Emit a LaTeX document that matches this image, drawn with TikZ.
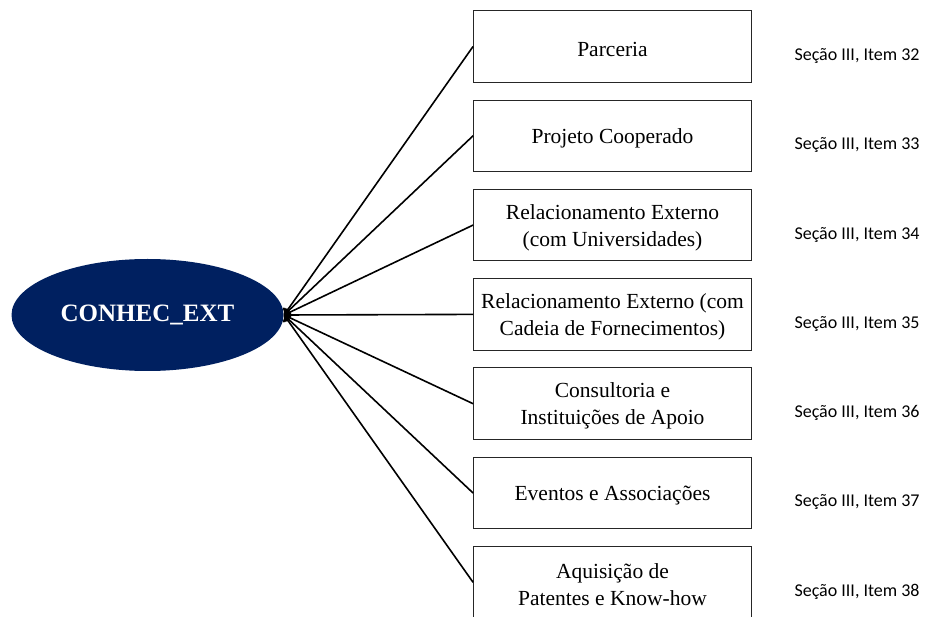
\documentclass[tikz,border=0pt]{standalone}
\usepackage{fontspec}
\setmainfont{Liberation Serif}
\newfontfamily\refsans{Carlito}
\usetikzlibrary{shapes.geometric,arrows.meta}
\definecolor{navy}{HTML}{002060}
\tikzset{
  itembox/.style={draw=black!85, line width=0.9pt, minimum width=278pt, minimum height=71.5pt, inner sep=0pt},
  itemtext/.style={align=center, font=\fontsize{21.5}{27}\selectfont, inner sep=0pt},
  reflabel/.style={anchor=west, font=\refsans\fontsize{18}{21}\selectfont},
  link/.style={line width=1.6pt, -{To[length=6pt,width=10pt]}}
}
\begin{document}
\begin{tikzpicture}[x=1pt,y=-1pt]
  \useasboundingbox (0,0) rectangle (927,617);
  \node[ellipse, fill=navy, minimum width=272pt, minimum height=112pt, inner sep=0pt,
        text=white, font=\bfseries\fontsize{25}{29}\selectfont] (ce) at (147.5,315) {CONHEC\_EXT};
  \coordinate (tip) at (284,315);
  \foreach \i/\txt in {1/Parceria,2/Projeto Cooperado,
      3/{Relacionamento Externo\\(com Universidades)},
      4/{Relacionamento Externo (com\\Cadeia de Fornecimentos)},
      5/{Consultoria e\\Instituições de Apoio},
      6/Eventos e Associações,
      7/{Aquisição de\\Patentes e Know-how}} {
    \node[itembox] (b\i) at (612.5,{46.5+89.3*(\i-1)}) {};
    \node[itemtext] (t\i) at ([yshift=-2.5pt]b\i.center) {\txt};
    \node[reflabel] (s\i) at (791,{56+89.3*(\i-1)}) {Seção III, Item \the\numexpr31+\i\relax};
    \draw[link] (b\i.west) -- (tip);
  }
\end{tikzpicture}
\end{document}
